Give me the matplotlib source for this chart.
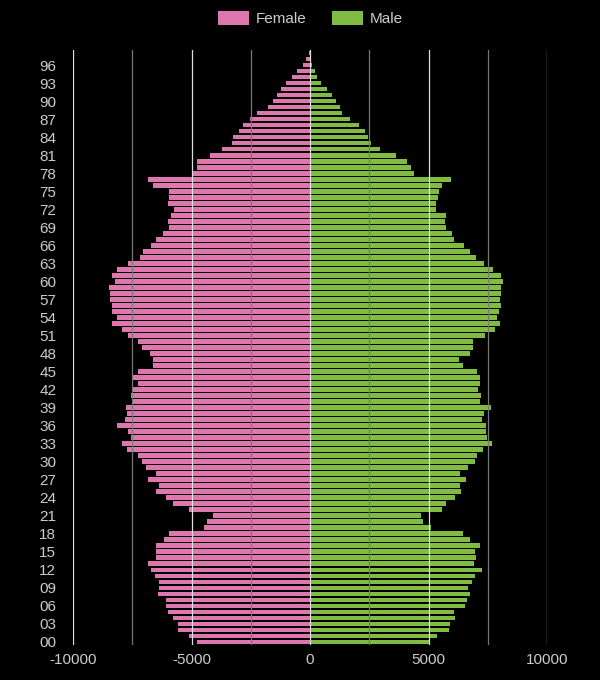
import matplotlib
matplotlib.use("Agg")
import matplotlib.pyplot as plt
import numpy as np

plt.rcParams["font.family"] = ["Liberation Sans", "DejaVu Sans"]

ages = list(range(0, 99))

# population by single year of age, 0..98 (female drawn negative)
female = [4750, 5120, 5590, 5590, 5800, 6010, 6060, 6090, 6430, 6380,
          6380, 6560, 6720, 6850, 6480, 6480, 6510, 6170, 5930, 4490,
          4360, 4100, 5120, 5800, 6060, 6480, 6380, 6820, 6480, 6900,
          7110, 7270, 7740, 7920, 7560, 7690, 8160, 7820, 7740, 7770,
          7530, 7560, 7480, 7240, 7510, 7240, 6610, 6610, 6770, 7110,
          7270, 7660, 7950, 8340, 8160, 8340, 8340, 8420, 8420, 8470,
          8210, 8370, 8130, 7690, 7190, 7060, 6720, 6480, 6220, 5960,
          6010, 5880, 5750, 6010, 5960, 5930, 6640, 6850, 4990, 4780,
          4750, 4200, 3730, 3310, 3260, 3000, 2840, 2550, 2250, 1790,
          1580, 1400, 1240, 1030, 780, 570, 300, 150, 40]
male = [5010, 5350, 5850, 5900, 6110, 6060, 6530, 6610, 6740, 6660,
        6820, 6950, 7250, 6910, 7000, 6950, 7160, 6740, 6450, 5090,
        4750, 4670, 5560, 5740, 6110, 6370, 6320, 6580, 6320, 6660,
        6950, 7040, 7290, 7670, 7460, 7420, 7420, 7250, 7330, 7630,
        7160, 7210, 7080, 7160, 7160, 7040, 6450, 6280, 6740, 6870,
        6870, 7370, 7800, 8010, 7880, 7970, 8050, 8010, 8050, 8050,
        8140, 8050, 7710, 7330, 7000, 6740, 6490, 6060, 5980, 5740,
        5690, 5740, 5300, 5300, 5400, 5430, 5560, 5950, 4380, 4250,
        4090, 3620, 2940, 2570, 2440, 2310, 2050, 1680, 1370, 1260,
        1080, 920, 710, 450, 280, 190, 100, 30, 20]

pink = "#de77ae"
green = "#7fbc41"
txt = "#cccccc"

fig = plt.figure(figsize=(6, 6.8), dpi=100, facecolor="black")
ax = fig.add_axes([0.1217, 0.0515, 0.79, 0.875], facecolor="black")

ax.barh(ages, -np.array(female), height=0.78, color=pink, label="Female", zorder=1)
ax.barh(ages, male, height=0.78, color=green, label="Male", zorder=1)

# grid on top of the bars
for v in [-10000, -5000, 0, 5000, 10000]:
    ax.axvline(v, color="#dddddd", lw=0.9, zorder=3)
for v in [-7500, -2500, 2500, 7500]:
    ax.axvline(v, color="#777777", lw=0.9, zorder=3)

ax.set_xlim(-10000, 10000)
ax.set_ylim(-0.5, 98.5)
ax.set_xticks([-10000, -5000, 0, 5000, 10000])
ax.set_xticklabels(["-10000", "-5000", "0", "5000", "10000"])
ax.set_yticks(range(0, 97, 3))
ax.set_yticklabels(["%02d" % a for a in range(0, 97, 3)])
ax.tick_params(axis="both", length=0, colors=txt, labelsize=11)
ax.tick_params(axis="y", pad=12)
ax.tick_params(axis="x", pad=6)
for s in ax.spines.values():
    s.set_visible(False)

leg = fig.legend(loc="center", bbox_to_anchor=(0.517, 1 - 18.5 / 680), ncol=2,
                 frameon=False, fontsize=11, handlelength=2.05, handleheight=1.0,
                 columnspacing=1.7, handletextpad=0.4, borderpad=0)
for t in leg.get_texts():
    t.set_color(txt)

fig.savefig("out.png", dpi=100, facecolor="black")
